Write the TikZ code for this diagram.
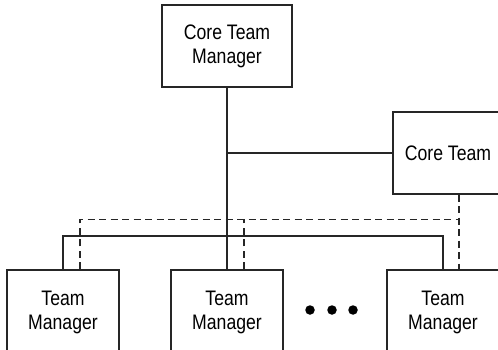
\documentclass[tikz,border=0pt]{standalone}
\usepackage{fontspec}
\setmainfont{Liberation Sans}[FakeStretch=0.84]
\usetikzlibrary{calc}

\begin{document}
\begin{tikzpicture}[
          x=1pt, y=-1pt,
          box/.style={
              draw=black!85,
              fill=white,
              line width=1.2pt,
              align=center,
              font=\fontsize{21}{24}\selectfont,
              inner sep=0pt
            },
          link/.style={black!85, line width=1.6pt},
          dashlink/.style={black!85, line width=1.6pt, dash pattern=on 7pt off 4.5pt},
          dotmark/.style={circle, fill=black, inner sep=0pt, minimum size=9.5pt}
        ]
        \clip (0,0) rectangle (498,350);
        \node[box, minimum width=130pt, minimum height=82pt] (ctm) at (227,46) {Core Team\\Manager};
        \node[box, minimum width=110pt, minimum height=82pt] (ct) at (448,153) {Core Team};
        \node[box, minimum width=112pt, minimum height=84pt] (tm1) at (63,312) {Team\\Manager};
        \node[box, minimum width=112pt, minimum height=84pt] (tm2) at (227,312) {Team\\Manager};
        \node[box, minimum width=112pt, minimum height=84pt] (tm3) at (443,312) {Team\\Manager};
        \foreach \i/\x in {1/310, 2/332, 3/353}
          \node[dotmark] (dot\i) at (\x,310) {};

        \coordinate (bus) at (227,236);
        \coordinate (dbus) at ($(tm3.north)+(16,-50)$);

        \draw[link] (ctm) -- (tm2);
        \draw[link] (ctm.south |- ct.west) -- (ct.west);
        \draw[link] (tm1.north) |- (tm3.north |- bus) -- (tm3.north);

        \draw[dashlink] ($(ct.south)+(11,0)$) -- ($(tm3.north)+(16,0)$);
        \draw[dashlink] ($(tm1.north)+(17,0)$) |- (dbus);
        \draw[dashlink] ($(tm2.north)+(17,0)$) -- ($(tm2.north)+(17,-50)$);
      \end{tikzpicture}
\end{document}
